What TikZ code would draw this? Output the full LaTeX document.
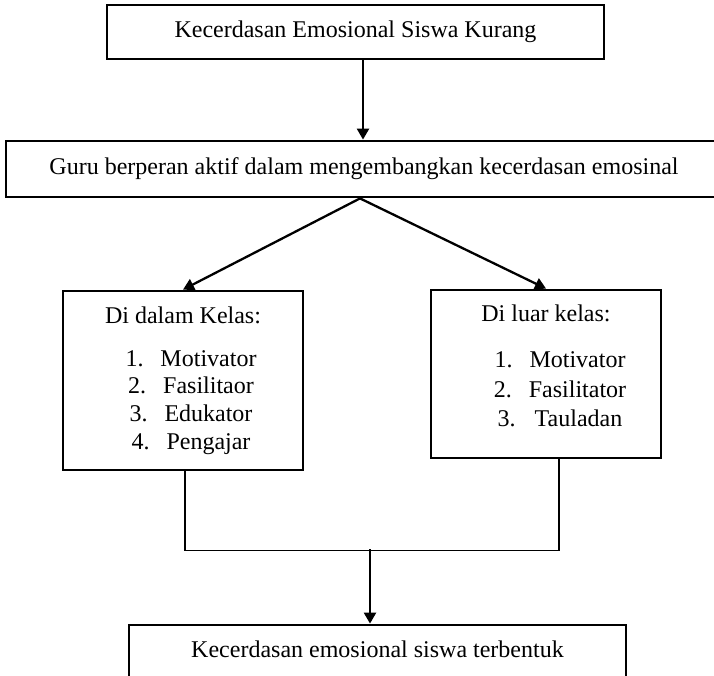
\documentclass[tikz,border=0pt]{standalone}
\usepackage{fontspec}
\setmainfont{Liberation Serif}
\usetikzlibrary{arrows.meta}
\begin{document}
\begin{tikzpicture}[x=1pt,y=-1pt,
  box/.style={draw, line width=2.8pt, inner sep=0pt, font=\fontsize{24}{28}\selectfont},
  onel/.style={text height=16.4pt, text depth=5.2pt},
  arr/.style={line width=2.3pt, -{Triangle[length=11pt,width=12pt]}},
  link/.style={line width=1.5pt}]
\useasboundingbox (0,0) rectangle (714,675);
\clip (0,0) rectangle (714,675);
\node[box,onel,minimum width=497pt,minimum height=54pt] (top) at (355.5,32) {Kecerdasan Emosional Siswa Kurang};
\node[box,onel,minimum width=716pt,minimum height=56pt] (guru) at (364,169) {Guru berperan aktif dalam mengembangkan kecerdasan emosinal};
\node[box,align=center,minimum width=240pt,minimum height=179pt,font=\fontsize{24}{27.7}\selectfont] (dalam) at (183,380.5)
  {Di dalam Kelas:\\[15.3pt]
   \hspace*{16pt}1.\hspace{17pt}Motivator\\
   \hspace*{16pt}2.\hspace{17pt}Fasilitaor\\
   \hspace*{16pt}3.\hspace{17pt}Edukator\\
   \hspace*{16pt}4.\hspace{17pt}Pengajar};
\node[box,align=center,minimum width=230pt,minimum height=168pt,font=\fontsize{24}{29.5}\selectfont] (luar) at (546,374)
  {Di luar kelas:\\[16.5pt]
   \hspace*{28pt}1.\hspace{17pt}Motivator\\
   \hspace*{28pt}2.\hspace{17pt}Fasilitator\\
   \hspace*{28pt}3.\hspace{19pt}Tauladan\rule[-16pt]{0pt}{16pt}};
\node[box,onel,minimum width=497pt,minimum height=54pt] (hasil) at (377.5,652) {Kecerdasan emosional siswa terbentuk};
\draw[arr] ([xshift=7.5pt]top.south) -- ([xshift=7.5pt]top.south |- guru.north);
\draw[arr] ([xshift=-4pt]guru.south) -- (dalam.north);
\draw[arr] ([xshift=-4pt]guru.south) -- (luar.north);
\draw[link] ([xshift=2pt]dalam.south) -- ++(0,79) -| ([xshift=13pt]luar.south);
\coordinate (jn) at (370,549);
\draw[arr] (jn) -- (jn |- hasil.north);
\end{tikzpicture}
\end{document}
